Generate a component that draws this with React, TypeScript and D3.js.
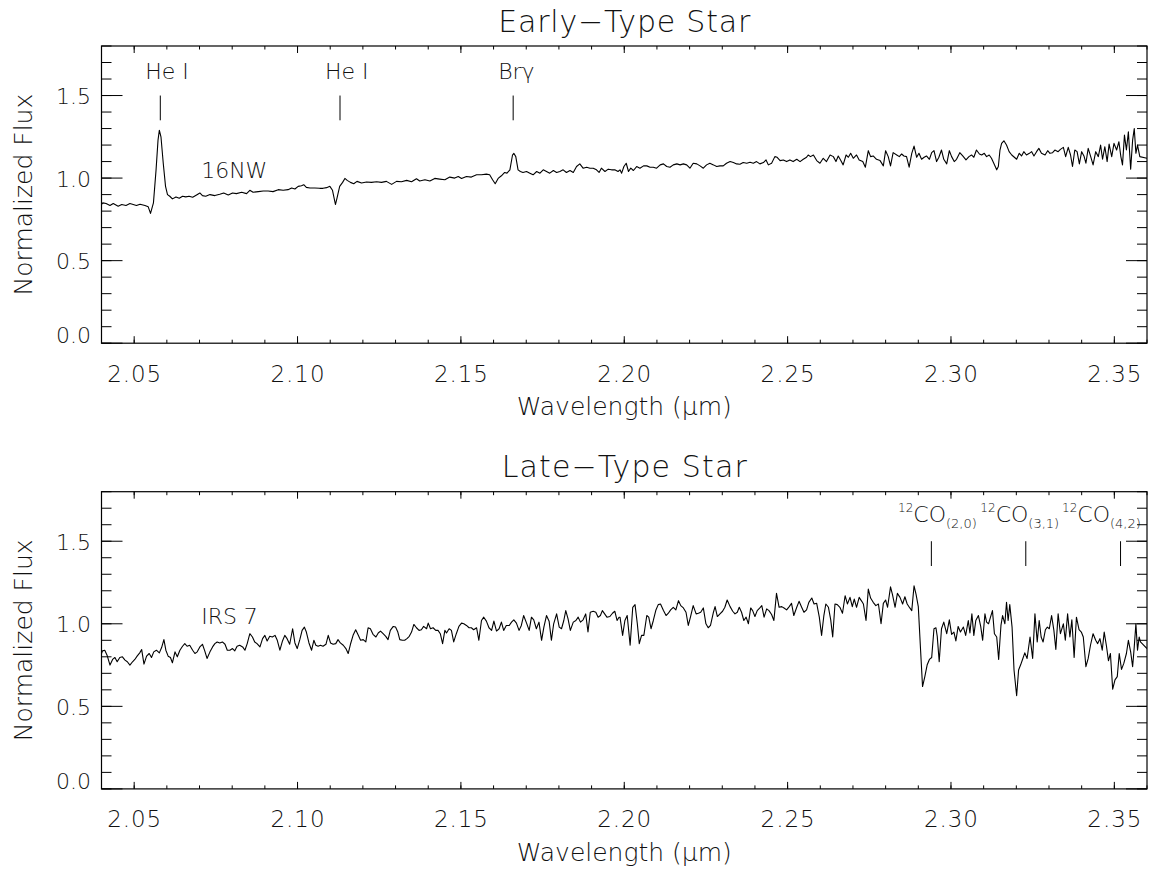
import React from "react";
import * as d3 from "d3";

// ---------- DATA ----------
// [wavelength (µm), normalized flux]
const EARLY_SPECTRUM: [number, number][] = [
  [2.0400,0.840],[2.0404,0.850],[2.0414,0.846],[2.0426,0.834],[2.0436,0.846],[2.0451,0.830],[2.0462,0.840],[2.0475,0.834],
  [2.0487,0.846],[2.0497,0.840],[2.0507,0.834],[2.0518,0.842],[2.0533,0.834],[2.0543,0.826],[2.0550,0.786],[2.0559,0.850],
  [2.0567,1.050],[2.0573,1.230],[2.0577,1.290],[2.0582,1.250],[2.0589,1.090],[2.0596,0.950],[2.0602,0.900],[2.0609,0.890],
  [2.0617,0.874],[2.0628,0.886],[2.0638,0.878],[2.0648,0.890],[2.0658,0.886],[2.0668,0.890],[2.0679,0.884],[2.0691,0.898],
  [2.0701,0.910],[2.0709,0.894],[2.0719,0.890],[2.0732,0.900],[2.0747,0.894],[2.0762,0.902],[2.0774,0.910],[2.0788,0.898],
  [2.0801,0.910],[2.0813,0.906],[2.0829,0.914],[2.0844,0.906],[2.0854,0.926],[2.0864,0.914],[2.0880,0.918],[2.0895,0.922],
  [2.0910,0.922],[2.0925,0.918],[2.0941,0.930],[2.0956,0.926],[2.0971,0.930],[2.0982,0.940],[2.0992,0.934],[2.1002,0.950],
  [2.1012,0.954],[2.1019,0.960],[2.1027,0.944],[2.1038,0.940],[2.1053,0.940],[2.1068,0.938],[2.1078,0.938],[2.1089,0.942],
  [2.1099,0.950],[2.1107,0.926],[2.1116,0.840],[2.1121,0.880],[2.1129,0.950],[2.1138,0.974],[2.1145,0.998],[2.1152,0.986],
  [2.1162,0.974],[2.1172,0.966],[2.1182,0.980],[2.1196,0.970],[2.1211,0.976],[2.1226,0.974],[2.1242,0.978],[2.1257,0.974],
  [2.1272,0.980],[2.1288,0.962],[2.1303,0.980],[2.1318,0.978],[2.1334,0.986],[2.1349,0.978],[2.1364,0.996],[2.1374,0.982],
  [2.1390,0.990],[2.1405,0.982],[2.1420,0.998],[2.1435,0.994],[2.1451,0.990],[2.1466,1.006],[2.1481,1.000],[2.1492,1.010],
  [2.1502,0.998],[2.1517,1.010],[2.1532,1.006],[2.1548,1.020],[2.1563,1.020],[2.1578,1.024],[2.1588,1.020],[2.1597,0.990],
  [2.1605,0.966],[2.1614,0.998],[2.1624,1.014],[2.1634,1.034],[2.1641,1.030],[2.1650,1.050],[2.1658,1.140],[2.1662,1.150],
  [2.1668,1.130],[2.1675,1.050],[2.1682,1.040],[2.1690,1.034],[2.1701,1.040],[2.1711,1.030],[2.1721,1.020],[2.1732,1.040],
  [2.1742,1.030],[2.1752,1.050],[2.1762,1.040],[2.1772,1.030],[2.1783,1.046],[2.1793,1.034],[2.1803,1.040],[2.1813,1.050],
  [2.1823,1.034],[2.1834,1.046],[2.1844,1.034],[2.1854,1.070],[2.1864,1.086],[2.1874,1.060],[2.1885,1.066],[2.1895,1.060],
  [2.1905,1.060],[2.1915,1.050],[2.1923,1.034],[2.1930,1.060],[2.1941,1.040],[2.1951,1.054],[2.1961,1.050],[2.1971,1.050],
  [2.1981,1.040],[2.1987,1.050],[2.1992,1.030],[2.1999,1.070],[2.2006,1.090],[2.2013,1.040],[2.2020,1.060],[2.2028,1.046],
  [2.2038,1.070],[2.2048,1.060],[2.2059,1.074],[2.2069,1.074],[2.2079,1.066],[2.2089,1.066],[2.2099,1.060],[2.2110,1.080],
  [2.2120,1.086],[2.2130,1.070],[2.2140,1.066],[2.2150,1.080],[2.2161,1.086],[2.2171,1.080],[2.2181,1.086],[2.2191,1.080],
  [2.2201,1.060],[2.2211,1.090],[2.2222,1.086],[2.2232,1.074],[2.2242,1.060],[2.2252,1.080],[2.2262,1.090],[2.2273,1.080],
  [2.2283,1.070],[2.2293,1.074],[2.2303,1.074],[2.2313,1.090],[2.2324,1.100],[2.2334,1.094],[2.2344,1.086],[2.2354,1.084],
  [2.2364,1.094],[2.2375,1.090],[2.2385,1.096],[2.2395,1.090],[2.2405,1.100],[2.2415,1.086],[2.2426,1.094],[2.2434,1.110],
  [2.2441,1.080],[2.2451,1.090],[2.2461,1.130],[2.2468,1.126],[2.2477,1.106],[2.2487,1.110],[2.2497,1.100],[2.2507,1.110],
  [2.2517,1.100],[2.2528,1.114],[2.2538,1.100],[2.2548,1.114],[2.2558,1.126],[2.2563,1.140],[2.2570,1.130],[2.2579,1.140],
  [2.2589,1.106],[2.2599,1.090],[2.2609,1.120],[2.2619,1.100],[2.2630,1.140],[2.2640,1.130],[2.2648,1.100],[2.2655,1.134],
  [2.2662,1.110],[2.2670,1.080],[2.2679,1.140],[2.2686,1.126],[2.2693,1.150],[2.2701,1.120],[2.2711,1.140],[2.2719,1.110],
  [2.2730,1.100],[2.2738,1.066],[2.2747,1.166],[2.2754,1.130],[2.2762,1.134],[2.2772,1.114],[2.2783,1.106],[2.2793,1.074],
  [2.2800,1.166],[2.2808,1.130],[2.2815,1.074],[2.2823,1.154],[2.2834,1.140],[2.2842,1.130],[2.2849,1.146],[2.2856,1.134],
  [2.2864,1.130],[2.2872,1.066],[2.2880,1.150],[2.2887,1.194],[2.2895,1.126],[2.2902,1.150],[2.2910,1.114],[2.2918,1.126],
  [2.2925,1.134],[2.2934,1.114],[2.2941,1.154],[2.2948,1.166],[2.2956,1.100],[2.2963,1.126],[2.2971,1.170],[2.2978,1.114],
  [2.2987,1.086],[2.2995,1.166],[2.3002,1.130],[2.3010,1.100],[2.3017,1.114],[2.3027,1.154],[2.3036,1.134],[2.3046,1.110],
  [2.3055,1.130],[2.3063,1.140],[2.3070,1.126],[2.3078,1.170],[2.3087,1.146],[2.3094,1.140],[2.3102,1.150],[2.3109,1.130],
  [2.3117,1.140],[2.3124,1.120],[2.3131,1.090],[2.3140,1.050],[2.3145,1.070],[2.3150,1.170],[2.3155,1.210],[2.3162,1.226],
  [2.3170,1.200],[2.3178,1.160],[2.3186,1.140],[2.3194,1.126],[2.3201,1.114],[2.3209,1.150],[2.3216,1.134],[2.3223,1.160],
  [2.3231,1.140],[2.3240,1.150],[2.3247,1.160],[2.3254,1.134],[2.3262,1.160],[2.3269,1.180],[2.3277,1.150],[2.3288,1.140],
  [2.3296,1.166],[2.3303,1.150],[2.3311,1.154],[2.3318,1.170],[2.3328,1.160],[2.3335,1.174],[2.3344,1.186],[2.3351,1.130],
  [2.3359,1.186],[2.3366,1.140],[2.3372,1.070],[2.3379,1.170],[2.3386,1.160],[2.3393,1.086],[2.3400,1.160],[2.3407,1.134],
  [2.3413,1.090],[2.3420,1.180],[2.3427,1.134],[2.3435,1.080],[2.3443,1.160],[2.3451,1.130],[2.3458,1.200],[2.3464,1.114],
  [2.3471,1.190],[2.3478,1.100],[2.3484,1.206],[2.3492,1.130],[2.3499,1.210],[2.3507,1.170],[2.3514,1.220],[2.3520,1.130],
  [2.3525,1.080],[2.3531,1.260],[2.3537,1.170],[2.3543,1.280],[2.3550,1.054],[2.3556,1.230],[2.3561,1.300],[2.3566,1.150],
  [2.3571,1.200],[2.3578,1.130],[2.3600,1.120],
];

const LATE_SPECTRUM: [number, number][] = [
  [2.0400,0.820],[2.0403,0.836],[2.0410,0.840],[2.0417,0.810],[2.0426,0.750],[2.0434,0.784],[2.0441,0.796],[2.0448,0.770],
  [2.0456,0.796],[2.0464,0.800],[2.0472,0.780],[2.0479,0.770],[2.0487,0.750],[2.0495,0.770],[2.0502,0.784],[2.0509,0.804],
  [2.0517,0.824],[2.0523,0.844],[2.0530,0.756],[2.0538,0.804],[2.0546,0.820],[2.0553,0.796],[2.0560,0.830],[2.0568,0.840],
  [2.0577,0.824],[2.0584,0.856],[2.0591,0.904],[2.0597,0.840],[2.0604,0.804],[2.0611,0.796],[2.0617,0.764],[2.0625,0.830],
  [2.0632,0.800],[2.0640,0.840],[2.0648,0.864],[2.0655,0.880],[2.0662,0.864],[2.0670,0.870],[2.0679,0.840],[2.0686,0.820],
  [2.0693,0.830],[2.0701,0.860],[2.0709,0.876],[2.0716,0.836],[2.0723,0.790],[2.0732,0.830],[2.0740,0.860],[2.0747,0.880],
  [2.0754,0.890],[2.0762,0.884],[2.0770,0.890],[2.0778,0.876],[2.0785,0.840],[2.0793,0.840],[2.0801,0.850],[2.0808,0.836],
  [2.0815,0.864],[2.0823,0.870],[2.0832,0.860],[2.0839,0.840],[2.0846,0.880],[2.0854,0.940],[2.0862,0.920],[2.0869,0.890],
  [2.0876,0.880],[2.0885,0.860],[2.0893,0.910],[2.0900,0.930],[2.0907,0.896],[2.0915,0.924],[2.0923,0.920],[2.0931,0.930],
  [2.0938,0.900],[2.0946,0.840],[2.0954,0.896],[2.0961,0.930],[2.0968,0.910],[2.0976,0.876],[2.0985,0.970],[2.0992,0.884],
  [2.0999,0.850],[2.1007,0.904],[2.1014,0.960],[2.1021,0.980],[2.1027,0.950],[2.1035,0.884],[2.1043,0.840],[2.1050,0.900],
  [2.1056,0.870],[2.1063,0.864],[2.1070,0.870],[2.1078,0.864],[2.1087,0.876],[2.1094,0.930],[2.1101,0.884],[2.1109,0.876],
  [2.1117,0.880],[2.1124,0.904],[2.1131,0.884],[2.1140,0.870],[2.1148,0.850],[2.1155,0.820],[2.1162,0.876],[2.1170,0.930],
  [2.1178,0.964],[2.1186,0.930],[2.1193,0.900],[2.1201,0.904],[2.1209,0.890],[2.1216,0.976],[2.1223,0.970],[2.1231,0.936],
  [2.1240,0.920],[2.1247,0.944],[2.1254,0.956],[2.1262,0.940],[2.1270,0.924],[2.1277,0.904],[2.1284,0.960],[2.1293,0.984],
  [2.1300,0.980],[2.1307,0.950],[2.1313,0.904],[2.1321,0.900],[2.1328,0.900],[2.1335,0.910],[2.1342,0.924],[2.1349,0.950],
  [2.1356,0.996],[2.1364,0.976],[2.1372,0.960],[2.1379,0.964],[2.1386,0.984],[2.1395,0.970],[2.1400,1.004],[2.1407,0.970],
  [2.1415,0.976],[2.1423,0.960],[2.1430,0.960],[2.1437,0.940],[2.1444,0.880],[2.1451,0.960],[2.1456,0.944],[2.1464,0.970],
  [2.1471,0.960],[2.1478,0.890],[2.1486,0.940],[2.1494,0.984],[2.1502,1.004],[2.1509,1.000],[2.1517,0.990],[2.1525,0.976],
  [2.1532,0.976],[2.1539,0.964],[2.1548,0.976],[2.1555,0.900],[2.1563,1.020],[2.1570,1.040],[2.1578,1.016],[2.1586,0.976],
  [2.1594,0.960],[2.1601,1.016],[2.1609,0.956],[2.1617,0.970],[2.1624,1.010],[2.1631,0.960],[2.1639,0.990],[2.1648,0.990],
  [2.1655,1.010],[2.1662,1.024],[2.1670,1.004],[2.1678,0.960],[2.1685,0.990],[2.1692,1.050],[2.1701,1.004],[2.1709,0.960],
  [2.1716,1.040],[2.1723,1.024],[2.1731,0.970],[2.1739,1.010],[2.1747,0.900],[2.1754,0.980],[2.1762,1.050],[2.1770,1.016],
  [2.1777,0.900],[2.1784,1.000],[2.1793,1.060],[2.1801,0.980],[2.1808,0.970],[2.1815,1.020],[2.1821,1.080],[2.1828,1.030],
  [2.1835,0.960],[2.1844,1.010],[2.1852,1.020],[2.1859,1.040],[2.1866,1.010],[2.1874,1.024],[2.1882,1.060],[2.1889,0.950],
  [2.1896,1.070],[2.1905,1.076],[2.1913,1.070],[2.1920,1.040],[2.1927,1.050],[2.1933,1.080],[2.1940,1.060],[2.1947,1.040],
  [2.1956,1.044],[2.1964,1.064],[2.1971,1.076],[2.1978,1.020],[2.1984,1.040],[2.1987,1.040],[2.1995,0.930],[2.2002,1.020],
  [2.2009,1.050],[2.2018,0.870],[2.2026,1.100],[2.2033,1.116],[2.2040,1.000],[2.2046,0.880],[2.2053,0.930],[2.2060,0.930],
  [2.2069,1.050],[2.2075,1.040],[2.2082,0.970],[2.2089,1.020],[2.2097,1.084],[2.2104,1.116],[2.2111,1.120],[2.2120,1.080],
  [2.2128,1.050],[2.2135,1.064],[2.2142,1.084],[2.2150,1.100],[2.2158,1.084],[2.2166,1.140],[2.2173,1.110],[2.2181,1.096],
  [2.2189,1.070],[2.2196,0.990],[2.2203,1.044],[2.2211,1.110],[2.2220,1.060],[2.2227,1.064],[2.2234,1.070],[2.2242,1.096],
  [2.2250,1.000],[2.2257,0.976],[2.2264,0.990],[2.2273,1.070],[2.2278,1.104],[2.2285,1.044],[2.2293,1.060],[2.2301,1.076],
  [2.2308,1.100],[2.2315,1.144],[2.2324,1.104],[2.2332,1.076],[2.2339,1.060],[2.2346,1.070],[2.2352,1.100],[2.2359,1.070],
  [2.2366,1.020],[2.2373,1.040],[2.2380,1.000],[2.2387,1.096],[2.2393,1.080],[2.2400,1.044],[2.2407,1.080],[2.2415,1.096],
  [2.2421,1.110],[2.2428,1.040],[2.2436,1.090],[2.2443,1.080],[2.2451,1.056],[2.2458,1.020],[2.2466,1.184],[2.2474,1.100],
  [2.2482,1.104],[2.2489,1.096],[2.2497,1.084],[2.2505,1.104],[2.2512,1.124],[2.2519,1.050],[2.2528,1.100],[2.2535,1.136],
  [2.2543,1.100],[2.2550,1.070],[2.2558,1.084],[2.2565,1.130],[2.2574,1.156],[2.2581,1.120],[2.2589,1.124],[2.2597,1.040],
  [2.2604,0.930],[2.2611,1.050],[2.2617,1.120],[2.2625,1.100],[2.2632,1.024],[2.2638,0.920],[2.2645,1.120],[2.2652,1.116],
  [2.2660,1.100],[2.2668,1.064],[2.2676,1.170],[2.2683,1.120],[2.2691,1.160],[2.2698,1.104],[2.2704,1.150],[2.2711,1.100],
  [2.2719,1.160],[2.2727,1.136],[2.2732,1.120],[2.2740,1.020],[2.2747,1.210],[2.2754,1.156],[2.2762,1.130],[2.2770,1.110],
  [2.2778,1.120],[2.2786,1.000],[2.2793,1.124],[2.2800,1.144],[2.2806,1.100],[2.2815,1.224],[2.2821,1.176],[2.2829,1.100],
  [2.2836,1.184],[2.2844,1.160],[2.2852,1.120],[2.2859,1.164],[2.2866,1.120],[2.2874,1.096],[2.2880,1.080],[2.2887,1.230],
  [2.2893,1.180],[2.2900,1.104],[2.2907,0.840],[2.2913,0.620],[2.2920,0.680],[2.2927,0.750],[2.2934,0.784],[2.2941,0.796],
  [2.2948,0.970],[2.2954,0.976],[2.2958,0.924],[2.2964,0.770],[2.2971,0.970],[2.2978,1.010],[2.2987,0.940],[2.2995,1.024],
  [2.3002,0.936],[2.3009,0.950],[2.3015,0.896],[2.3022,0.984],[2.3029,0.950],[2.3038,0.980],[2.3045,0.930],[2.3053,1.020],
  [2.3058,0.944],[2.3064,1.060],[2.3070,0.930],[2.3076,1.020],[2.3084,1.050],[2.3091,0.984],[2.3097,0.900],[2.3104,1.060],
  [2.3109,1.010],[2.3115,1.000],[2.3121,1.040],[2.3127,1.080],[2.3133,0.940],[2.3140,0.920],[2.3146,0.784],[2.3153,0.990],
  [2.3158,1.050],[2.3165,1.000],[2.3170,1.130],[2.3175,1.020],[2.3180,1.116],[2.3187,0.980],[2.3193,0.720],[2.3201,0.564],
  [2.3207,0.720],[2.3213,0.750],[2.3219,0.784],[2.3226,0.824],[2.3233,0.790],[2.3242,0.920],[2.3250,0.790],[2.3257,1.060],
  [2.3264,0.890],[2.3270,1.020],[2.3276,0.920],[2.3282,0.890],[2.3289,0.964],[2.3295,0.980],[2.3301,0.970],[2.3308,1.050],
  [2.3315,0.960],[2.3321,0.844],[2.3328,1.060],[2.3335,0.940],[2.3344,1.000],[2.3350,0.900],[2.3357,1.060],[2.3364,0.920],
  [2.3370,1.024],[2.3377,0.796],[2.3384,1.040],[2.3392,0.964],[2.3399,0.950],[2.3405,0.920],[2.3413,0.740],[2.3420,0.790],
  [2.3427,0.870],[2.3435,0.940],[2.3443,0.900],[2.3449,0.880],[2.3456,0.910],[2.3463,0.840],[2.3469,0.950],[2.3476,0.864],
  [2.3482,0.776],[2.3488,0.820],[2.3495,0.604],[2.3502,0.660],[2.3509,0.680],[2.3515,0.820],[2.3522,0.724],[2.3529,0.760],
  [2.3537,0.820],[2.3543,0.900],[2.3550,0.830],[2.3556,0.740],[2.3561,0.860],[2.3566,1.000],[2.3571,0.840],[2.3576,0.920],
  [2.3580,0.890],[2.3600,0.850],
];

const X_MAJOR_TICKS = [2.05, 2.10, 2.15, 2.20, 2.25, 2.30, 2.35];
const X_TICK_LABELS = ["2.05", "2.10", "2.15", "2.20", "2.25", "2.30", "2.35"];
const Y_MAJOR_TICKS = [0.0, 0.5, 1.0, 1.5];
const Y_TICK_LABELS = ["0.0", "0.5", "1.0", "1.5"];

const PANEL_TITLES = ["Early\u2212Type Star", "Late\u2212Type Star"];
const STAR_NAMES = ["16NW", "IRS 7"];

const EARLY_LINES = [
  { wave: 2.0580, name: "He I" },
  { wave: 2.1130, name: "He I" },
  { wave: 2.1660, name: "Br\u03b3" },
];
const LATE_LINES = [
  { wave: 2.2940, labelWave: 2.2838, band: "(2,0)" },
  { wave: 2.3229, labelWave: 2.3090, band: "(3,1)" },
  { wave: 2.3519, labelWave: 2.3340, band: "(4,2)" },
];

// ---------- LAYOUT ----------
const W = 1152, H = 873;
const LEFT = 101.5, RIGHT = 1147;
const PANEL_H = 297.2;
const PANEL_TOPS = [46, 491.7];
const FONT = "'DejaVu Sans', 'Liberation Sans', sans-serif";
const TEXT_COLOR = "#111";

const x = d3.scaleLinear().domain([2.04, 2.36]).range([LEFT, RIGHT]);

function Panel({ top, index }: { top: number; index: number }) {
  const y = d3.scaleLinear().domain([0, 1.8]).range([top + PANEL_H, top]);
  const bottom = top + PANEL_H;
  const spectrum = index === 0 ? EARLY_SPECTRUM : LATE_SPECTRUM;
  const line = d3
    .line<[number, number]>()
    .x((d) => x(d[0]))
    .y((d) => y(d[1]));
  const minorX = d3.range(2.04, 2.3605, 0.01);
  const minorY = d3.range(0, 1.805, 0.1);
  const clipId = `clip-${index}`;
  const midX = (LEFT + RIGHT) / 2;
  const midY = top + PANEL_H / 2;

  return (
    <g>
      <defs>
        <clipPath id={clipId}>
          <rect x={LEFT} y={top} width={RIGHT - LEFT} height={PANEL_H} />
        </clipPath>
      </defs>
      {minorX.map((v, i) => (
        <g key={"mx" + i} stroke="#000" strokeWidth={1}>
          <line x1={x(v)} x2={x(v)} y1={bottom} y2={bottom - 3.5} />
          <line x1={x(v)} x2={x(v)} y1={top} y2={top + 3.5} />
        </g>
      ))}
      {X_MAJOR_TICKS.map((v, i) => (
        <g key={"Mx" + i}>
          <line x1={x(v)} x2={x(v)} y1={bottom} y2={bottom - 7} stroke="#000" />
          <line x1={x(v)} x2={x(v)} y1={top} y2={top + 7} stroke="#000" />
          <text
            x={x(v)}
            y={bottom + 38.5}
            textAnchor="middle"
            fontSize={23}
            fontFamily={FONT}
            fontWeight={200}
            fill={TEXT_COLOR}
            textLength={54}
            lengthAdjust="spacing"
          >
            {X_TICK_LABELS[i]}
          </text>
        </g>
      ))}
      {minorY.map((v, i) => (
        <g key={"my" + i} stroke="#000" strokeWidth={1}>
          <line x1={LEFT} x2={LEFT + 10} y1={y(v)} y2={y(v)} />
          <line x1={RIGHT} x2={RIGHT - 10} y1={y(v)} y2={y(v)} />
        </g>
      ))}
      {Y_MAJOR_TICKS.map((v, i) => (
        <g key={"My" + i}>
          <line x1={LEFT} x2={LEFT + 21} y1={y(v)} y2={y(v)} stroke="#000" />
          <line x1={RIGHT} x2={RIGHT - 21} y1={y(v)} y2={y(v)} stroke="#000" />
          <text
            x={91}
            y={v === 0 ? y(v) : y(v) + 8.5}
            textAnchor="end"
            fontSize={22}
            fontFamily={FONT}
            fontWeight={200}
            fill={TEXT_COLOR}
          >
            {Y_TICK_LABELS[i]}
          </text>
        </g>
      ))}
      <rect
        x={LEFT}
        y={top}
        width={RIGHT - LEFT}
        height={PANEL_H}
        fill="none"
        stroke="#000"
        strokeWidth={1.2}
      />
      <path
        d={line(spectrum) || ""}
        fill="none"
        stroke="#000"
        strokeWidth={1.1}
        strokeLinejoin="round"
        clipPath={`url(#${clipId})`}
      />
      <text
        x={midX}
        y={top - 14.5}
        textAnchor="middle"
        fontSize={30}
        fontFamily={FONT}
        fontWeight={200}
        fill={TEXT_COLOR}
        textLength={index === 0 ? 252 : 245}
        lengthAdjust="spacing"
      >
        {PANEL_TITLES[index]}
      </text>
      <text
        x={midX}
        y={bottom + 72}
        textAnchor="middle"
        fontSize={25}
        fontFamily={FONT}
        fontWeight={200}
        fill={TEXT_COLOR}
      >
        Wavelength ({"\u03bc"}m)
      </text>
      <text
        transform={`translate(31.5, ${midY}) rotate(-90)`}
        textAnchor="middle"
        fontSize={25}
        fontFamily={FONT}
        fontWeight={200}
        fill={TEXT_COLOR}
      >
        Normalized Flux
      </text>
      <text
        x={x(2.0705)}
        y={y(1.0)}
        fontSize={22}
        fontFamily={FONT}
        fontWeight={200}
        fill={TEXT_COLOR}
      >
        {STAR_NAMES[index]}
      </text>
      {index === 0 &&
        EARLY_LINES.map((l, i) => (
          <g key={"el" + i}>
            <line x1={x(l.wave)} x2={x(l.wave)} y1={y(1.5)} y2={y(1.35)} stroke="#000" />
            <text
              x={x(l.wave) - 15}
              y={y(1.6)}
              fontSize={22}
              fontFamily={FONT}
              fontWeight={200}
              fill={TEXT_COLOR}
            >
              {l.name}
            </text>
          </g>
        ))}
      {index === 1 &&
        LATE_LINES.map((l, i) => (
          <g key={"ll" + i}>
            <line x1={x(l.wave)} x2={x(l.wave)} y1={y(1.5)} y2={y(1.35)} stroke="#000" />
            <text
              x={x(l.labelWave)}
              y={y(1.618)}
              fontFamily={FONT}
              fontWeight={200}
              fill={TEXT_COLOR}
            >
              <tspan fontSize={12} dy={-10}>12</tspan>
              <tspan fontSize={22} dy={10}>CO</tspan>
              <tspan fontSize={13} dy={6}>{l.band}</tspan>
            </text>
          </g>
        ))}
    </g>
  );
}

export default function App() {
  return (
    <svg
      width={W}
      height={H}
      viewBox={`0 0 ${W} ${H}`}
      style={{ position: "absolute", left: 0, top: 0, background: "#fff" }}
    >
      <rect x={0} y={0} width={W} height={H} fill="#fff" />
      {PANEL_TOPS.map((t, i) => (
        <Panel key={i} top={t} index={i} />
      ))}
    </svg>
  );
}
